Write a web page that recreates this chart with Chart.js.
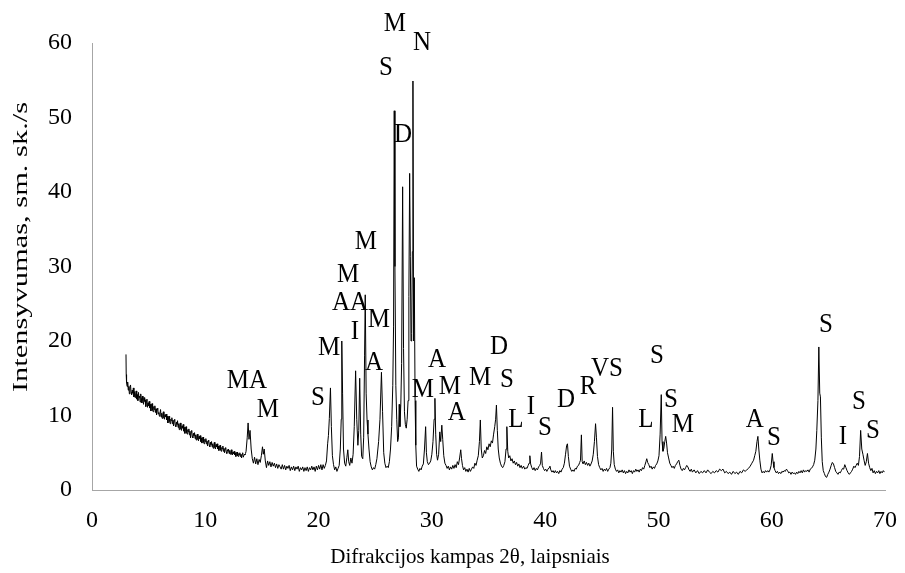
<!DOCTYPE html>
<html>
<head>
<meta charset="utf-8">
<script src="https://cdn.jsdelivr.net/npm/chart.js@4.4.1/dist/chart.umd.min.js"></script>
<style>
  html, body { margin: 0; padding: 0; background: #fff; }
  #wrap { width: 905px; height: 573px; position: relative; }
</style>
</head>
<body>
<div id="wrap"><canvas id="xrdChart"></canvas></div>
<script>
// 2theta (deg) / intensity (sm. sk./s)
const pattern = [
  [3.0, 18.2], [3.02, 15.5], [3.05, 14.4], [3.1, 13.9], [3.15, 14.5], [3.2, 13.4], [3.25, 13.9], [3.3, 12.9],
  [3.35, 13.8], [3.4, 14.1], [3.45, 13.1], [3.5, 12.8], [3.55, 13.4], [3.6, 13.0], [3.65, 13.7], [3.7, 12.5],
  [3.75, 13.2], [3.8, 12.4], [3.85, 12.9], [3.9, 13.3], [3.95, 12.2], [4.0, 12.8], [4.05, 12.0], [4.1, 13.1],
  [4.15, 12.4], [4.2, 12.6], [4.25, 11.8], [4.3, 12.9], [4.35, 12.3], [4.4, 11.7], [4.45, 12.6], [4.5, 12.0],
  [4.55, 11.5], [4.6, 12.4], [4.65, 11.9], [4.7, 12.1], [4.75, 11.2], [4.8, 11.9], [4.85, 12.2], [4.9, 11.1],
  [4.95, 11.7], [5.0, 11.3], [5.05, 11.9], [5.1, 11.0], [5.15, 11.5], [5.2, 10.6], [5.25, 11.4], [5.3, 11.6],
  [5.35, 10.7], [5.4, 10.5], [5.45, 11.2], [5.5, 10.8], [5.55, 11.3], [5.6, 10.4], [5.65, 10.9], [5.7, 10.1],
  [5.75, 10.8], [5.8, 11.0], [5.85, 10.2], [5.9, 10.4], [5.95, 9.9], [6.0, 10.3], [6.05, 10.8], [6.1, 9.8],
  [6.15, 10.3], [6.2, 9.6], [6.25, 10.2], [6.3, 10.5], [6.35, 9.7], [6.4, 9.5], [6.45, 10.1], [6.5, 9.8],
  [6.55, 10.2], [6.6, 9.4], [6.65, 9.9], [6.7, 9.0], [6.75, 9.7], [6.8, 9.9], [6.85, 9.2], [6.9, 8.9],
  [6.95, 9.5], [7.0, 9.3], [7.05, 9.7], [7.1, 8.9], [7.15, 9.4], [7.2, 8.6], [7.25, 9.3], [7.3, 9.5],
  [7.35, 8.7], [7.4, 8.5], [7.45, 9.1], [7.5, 8.8], [7.55, 9.3], [7.6, 8.4], [7.65, 8.9], [7.7, 8.1],
  [7.75, 8.8], [7.8, 9.0], [7.85, 8.2], [7.9, 8.0], [7.95, 8.6], [8.0, 8.3], [8.05, 8.8], [8.1, 7.9],
  [8.15, 8.4], [8.2, 7.6], [8.25, 8.3], [8.3, 8.5], [8.35, 7.7], [8.4, 7.5], [8.45, 8.1], [8.5, 7.8],
  [8.55, 8.2], [8.6, 7.4], [8.65, 7.9], [8.7, 7.0], [8.75, 7.7], [8.8, 8.0], [8.85, 7.2], [8.9, 7.0],
  [8.95, 7.6], [9.0, 7.3], [9.05, 7.7], [9.1, 6.9], [9.15, 7.4], [9.2, 6.7], [9.25, 7.3], [9.3, 7.5],
  [9.35, 6.8], [9.4, 6.6], [9.45, 7.2], [9.5, 6.9], [9.55, 7.3], [9.6, 6.5], [9.65, 7.0], [9.7, 6.3],
  [9.75, 6.9], [9.8, 7.1], [9.85, 6.4], [9.9, 6.2], [9.95, 6.8], [10.0, 6.5], [10.05, 6.9], [10.1, 6.2],
  [10.15, 6.6], [10.2, 5.9], [10.25, 6.5], [10.3, 6.7], [10.35, 6.0], [10.4, 5.8], [10.45, 6.4], [10.5, 6.1],
  [10.55, 6.5], [10.6, 5.8], [10.65, 6.2], [10.7, 5.6], [10.75, 6.1], [10.8, 6.4], [10.85, 5.7], [10.9, 5.5],
  [10.95, 6.1], [11.0, 5.8], [11.05, 6.2], [11.1, 5.5], [11.15, 5.9], [11.2, 5.3], [11.25, 5.8], [11.3, 6.0],
  [11.35, 5.4], [11.4, 5.2], [11.45, 5.7], [11.5, 5.5], [11.55, 5.9], [11.6, 5.2], [11.65, 5.6], [11.7, 5.0],
  [11.75, 5.5], [11.8, 5.7], [11.85, 5.1], [11.9, 4.9], [11.95, 5.4], [12.0, 5.2], [12.05, 5.5], [12.1, 4.9],
  [12.15, 5.3], [12.2, 4.8], [12.25, 5.2], [12.3, 5.4], [12.35, 4.8], [12.4, 4.7], [12.45, 5.1], [12.5, 4.9],
  [12.55, 5.2], [12.6, 4.7], [12.65, 5.0], [12.7, 4.5], [12.75, 4.9], [12.8, 5.1], [12.85, 4.6], [12.9, 4.5],
  [12.95, 4.9], [13.0, 4.7], [13.05, 5.0], [13.1, 4.5], [13.15, 4.8], [13.2, 4.3], [13.25, 4.8], [13.3, 5.0],
  [13.35, 4.4], [13.4, 4.4], [13.45, 4.8], [13.5, 4.7], [13.55, 4.9], [13.6, 5.2], [13.7, 7.0], [13.78, 9.0],
  [13.86, 6.8], [13.95, 8.0], [14.05, 5.5], [14.15, 4.2], [14.25, 3.6], [14.35, 4.4], [14.45, 3.5], [14.55, 4.2],
  [14.65, 3.4], [14.75, 4.1], [14.85, 3.7], [14.95, 4.6], [15.05, 5.8], [15.12, 4.8], [15.2, 5.5], [15.3, 3.9],
  [15.4, 3.0], [15.5, 3.9], [15.6, 3.3], [15.7, 3.8], [15.8, 3.1], [15.9, 3.7], [16.0, 3.2], [16.1, 3.6],
  [16.2, 3.0], [16.3, 3.5], [16.4, 2.9], [16.5, 3.4], [16.6, 3.1], [16.7, 2.8], [16.8, 3.4], [16.9, 2.8],
  [17.0, 3.3], [17.1, 2.7], [17.2, 3.2], [17.3, 2.9], [17.4, 3.3], [17.5, 2.6], [17.6, 3.1], [17.7, 2.7],
  [17.8, 3.2], [17.9, 2.6], [18.0, 3.1], [18.1, 2.8], [18.2, 3.2], [18.3, 2.5], [18.4, 3.0], [18.5, 2.7],
  [18.6, 3.1], [18.7, 2.5], [18.8, 3.0], [18.9, 2.6], [19.0, 3.1], [19.1, 2.5], [19.2, 3.0], [19.3, 2.7],
  [19.4, 3.2], [19.5, 2.7], [19.6, 3.1], [19.7, 2.5], [19.8, 3.2], [19.9, 2.7], [20.0, 3.3], [20.1, 2.8],
  [20.2, 3.4], [20.3, 2.7], [20.4, 3.4], [20.5, 2.9], [20.6, 3.3], [20.7, 3.9], [20.8, 6.2], [20.87, 7.3],
  [20.95, 9.6], [21.05, 13.7], [21.13, 8.5], [21.22, 4.6], [21.32, 3.4], [21.42, 2.7], [21.52, 3.1], [21.62, 2.5],
  [21.72, 2.9], [21.82, 3.3], [21.92, 5.5], [22.0, 9.5], [22.05, 20.0], [22.12, 13.0], [22.2, 5.5], [22.3, 3.6],
  [22.4, 3.2], [22.5, 4.4], [22.58, 5.4], [22.66, 3.8], [22.75, 3.3], [22.85, 4.3], [22.95, 3.6], [23.05, 4.8],
  [23.15, 8.5], [23.27, 16.0], [23.37, 9.5], [23.47, 6.0], [23.55, 8.0], [23.63, 15.0], [23.72, 7.5], [23.8, 4.5],
  [23.9, 4.2], [23.98, 7.0], [24.06, 18.0], [24.12, 26.2], [24.2, 13.0], [24.28, 9.4], [24.36, 7.5], [24.45, 5.5],
  [24.55, 3.8], [24.65, 3.1], [24.75, 2.7], [24.85, 3.0], [24.95, 2.8], [25.05, 3.4], [25.15, 4.2], [25.3, 6.5],
  [25.42, 9.5], [25.55, 15.8], [25.65, 10.5], [25.75, 5.0], [25.85, 3.6], [25.95, 3.0], [26.05, 3.2], [26.15, 3.0],
  [26.25, 3.8], [26.35, 5.5], [26.45, 8.5], [26.55, 14.0], [26.62, 22.0], [26.68, 50.9], [26.74, 30.0], [26.82, 14.0],
  [26.9, 9.5], [26.98, 6.5], [27.05, 7.0], [27.12, 11.5], [27.18, 8.5], [27.26, 11.5], [27.33, 17.0], [27.42, 40.7],
  [27.5, 19.0], [27.58, 10.5], [27.66, 8.8], [27.74, 8.3], [27.82, 9.5], [27.9, 12.0], [27.97, 26.0], [28.04, 42.5],
  [28.1, 31.3], [28.16, 20.0], [28.22, 21.0], [28.28, 32.0], [28.33, 54.9], [28.39, 20.0], [28.45, 28.5], [28.52, 12.0],
  [28.58, 6.0], [28.65, 3.2], [28.75, 2.8], [28.85, 2.5], [28.95, 2.9], [29.05, 2.7], [29.15, 3.2], [29.25, 3.5],
  [29.35, 5.5], [29.45, 8.5], [29.52, 5.0], [29.6, 3.8], [29.7, 3.4], [29.8, 3.6], [29.9, 3.9], [30.0, 4.8],
  [30.1, 6.5], [30.2, 9.5], [30.27, 12.3], [30.34, 7.5], [30.42, 4.8], [30.5, 4.0], [30.6, 4.8], [30.7, 7.8],
  [30.78, 6.5], [30.88, 8.7], [30.96, 6.8], [31.05, 4.6], [31.15, 3.6], [31.25, 3.3], [31.35, 2.9], [31.45, 3.2],
  [31.55, 2.7], [31.65, 3.1], [31.75, 2.8], [31.85, 3.3], [31.95, 2.9], [32.05, 3.4], [32.15, 3.0], [32.25, 3.8],
  [32.35, 3.4], [32.45, 4.3], [32.55, 5.4], [32.62, 4.2], [32.7, 3.3], [32.8, 2.7], [32.9, 3.0], [33.0, 2.5],
  [33.1, 2.8], [33.2, 2.4], [33.3, 2.9], [33.4, 2.5], [33.5, 2.8], [33.6, 3.1], [33.7, 2.9], [33.8, 3.6],
  [33.9, 3.3], [34.0, 4.0], [34.1, 4.6], [34.2, 6.5], [34.28, 9.4], [34.36, 5.5], [34.45, 4.3], [34.55, 4.6],
  [34.65, 5.3], [34.75, 4.9], [34.85, 5.8], [34.95, 5.4], [35.05, 6.2], [35.15, 5.8], [35.25, 6.6], [35.35, 6.3],
  [35.45, 7.5], [35.55, 8.5], [35.63, 9.5], [35.7, 11.4], [35.78, 8.0], [35.86, 5.5], [35.95, 4.3], [36.05, 3.6],
  [36.15, 3.2], [36.25, 3.0], [36.35, 3.3], [36.45, 3.8], [36.55, 5.5], [36.62, 8.5], [36.7, 5.2], [36.78, 4.3],
  [36.88, 4.6], [36.98, 3.9], [37.08, 4.2], [37.18, 3.6], [37.28, 3.9], [37.38, 3.4], [37.48, 3.7], [37.58, 3.2],
  [37.68, 3.5], [37.78, 3.0], [37.88, 3.3], [37.98, 2.9], [38.1, 3.2], [38.2, 2.8], [38.3, 3.0], [38.4, 2.9],
  [38.5, 3.3], [38.58, 3.6], [38.65, 4.6], [38.72, 3.5], [38.82, 3.0], [38.92, 2.7], [39.02, 3.0], [39.12, 2.6],
  [39.22, 2.9], [39.32, 2.7], [39.42, 3.1], [39.52, 3.3], [39.6, 3.6], [39.68, 5.1], [39.75, 3.3], [39.85, 2.9],
  [39.95, 2.6], [40.05, 2.8], [40.15, 2.5], [40.25, 2.8], [40.35, 3.0], [40.42, 3.2], [40.5, 2.7], [40.6, 2.4],
  [40.7, 2.6], [40.8, 2.3], [40.9, 2.6], [41.0, 2.3], [41.1, 2.5], [41.2, 2.2], [41.3, 2.6], [41.4, 2.4],
  [41.5, 2.8], [41.6, 3.0], [41.7, 3.6], [41.8, 4.8], [41.9, 6.0], [41.97, 6.2], [42.05, 4.5], [42.15, 3.2],
  [42.25, 2.8], [42.35, 2.5], [42.45, 2.7], [42.55, 2.5], [42.65, 2.9], [42.75, 2.8], [42.85, 3.2], [42.95, 3.3],
  [43.05, 3.7], [43.12, 4.0], [43.2, 7.4], [43.27, 3.8], [43.35, 3.5], [43.45, 3.9], [43.55, 3.4], [43.65, 3.7],
  [43.75, 3.3], [43.85, 3.6], [43.95, 3.2], [44.05, 3.5], [44.15, 3.9], [44.25, 4.8], [44.35, 6.5], [44.45, 8.9],
  [44.53, 7.0], [44.62, 4.5], [44.72, 3.4], [44.82, 3.0], [44.92, 2.7], [45.02, 2.9], [45.12, 2.5], [45.22, 2.8],
  [45.32, 2.6], [45.42, 2.9], [45.52, 2.5], [45.62, 2.8], [45.72, 3.0], [45.8, 3.6], [45.88, 5.5], [45.95, 11.1],
  [46.02, 5.2], [46.1, 3.4], [46.2, 2.8], [46.3, 2.5], [46.4, 2.7], [46.5, 2.3], [46.6, 2.6], [46.7, 2.4],
  [46.8, 2.7], [46.9, 2.3], [47.0, 2.6], [47.1, 2.2], [47.2, 2.5], [47.3, 2.3], [47.4, 2.7], [47.5, 2.4],
  [47.6, 2.6], [47.7, 2.2], [47.8, 2.6], [47.9, 2.4], [48.0, 2.8], [48.1, 2.5], [48.2, 2.7], [48.3, 2.4],
  [48.4, 2.8], [48.5, 2.6], [48.6, 3.0], [48.7, 2.8], [48.8, 3.3], [48.9, 3.8], [48.97, 4.2], [49.05, 3.7],
  [49.15, 3.4], [49.25, 3.0], [49.35, 3.2], [49.45, 2.8], [49.55, 3.1], [49.65, 2.9], [49.75, 3.3], [49.85, 3.5],
  [49.95, 3.9], [50.05, 4.6], [50.15, 7.5], [50.25, 12.8], [50.32, 6.5], [50.4, 5.2], [50.48, 5.6], [50.56, 6.5],
  [50.64, 7.2], [50.72, 6.3], [50.8, 5.0], [50.9, 4.3], [51.0, 3.6], [51.1, 3.3], [51.2, 3.0], [51.3, 3.2],
  [51.4, 2.9], [51.5, 3.3], [51.6, 3.5], [51.7, 3.8], [51.8, 4.0], [51.9, 3.3], [52.0, 2.8], [52.1, 2.6],
  [52.2, 2.9], [52.3, 2.7], [52.4, 3.0], [52.5, 3.3], [52.6, 3.1], [52.7, 2.7], [52.8, 2.5], [52.9, 2.8],
  [53.0, 2.4], [53.15, 2.7], [53.3, 2.3], [53.45, 2.6], [53.6, 2.2], [53.75, 2.5], [53.9, 2.3], [54.05, 2.6],
  [54.2, 2.3], [54.35, 2.7], [54.5, 2.4], [54.65, 2.2], [54.8, 2.5], [54.95, 2.3], [55.1, 2.6], [55.25, 2.4],
  [55.4, 2.8], [55.55, 2.6], [55.7, 2.8], [55.85, 2.3], [56.0, 2.5], [56.15, 2.2], [56.3, 2.4], [56.45, 2.1],
  [56.6, 2.5], [56.75, 2.2], [56.9, 2.4], [57.05, 2.1], [57.2, 2.5], [57.35, 2.3], [57.5, 2.7], [57.65, 2.5],
  [57.8, 2.7], [57.95, 2.9], [58.1, 3.2], [58.25, 3.6], [58.4, 4.0], [58.5, 4.6], [58.6, 5.2], [58.7, 6.5],
  [58.78, 7.2], [58.86, 5.5], [58.95, 4.0], [59.05, 2.8], [59.15, 2.3], [59.25, 2.5], [59.35, 2.3], [59.45, 2.6],
  [59.55, 2.4], [59.65, 2.6], [59.75, 2.4], [59.85, 2.7], [59.95, 3.3], [60.05, 4.9], [60.12, 3.8], [60.2, 3.0],
  [60.3, 2.6], [60.4, 2.3], [60.5, 2.5], [60.6, 2.2], [60.7, 2.4], [60.8, 2.2], [60.9, 2.5], [61.0, 2.4],
  [61.1, 2.6], [61.2, 2.5], [61.3, 2.8], [61.4, 2.6], [61.5, 2.3], [61.6, 2.4], [61.7, 2.1], [61.8, 2.4],
  [61.9, 2.2], [62.0, 2.3], [62.1, 2.1], [62.2, 2.4], [62.3, 2.2], [62.4, 2.5], [62.5, 2.3], [62.6, 2.6],
  [62.7, 2.3], [62.8, 2.7], [62.9, 2.4], [63.0, 2.6], [63.1, 2.5], [63.2, 2.7], [63.3, 2.4], [63.4, 2.8],
  [63.5, 2.9], [63.6, 3.1], [63.7, 3.4], [63.8, 4.0], [63.9, 5.5], [63.98, 8.0], [64.08, 12.0], [64.16, 19.2],
  [64.24, 13.0], [64.3, 12.5], [64.38, 7.0], [64.46, 3.8], [64.55, 2.6], [64.65, 2.2], [64.75, 1.8], [64.85, 1.7],
  [64.95, 2.1], [65.05, 2.4], [65.15, 2.8], [65.25, 3.3], [65.35, 3.7], [65.45, 3.5], [65.55, 3.0], [65.65, 2.5],
  [65.75, 2.3], [65.85, 2.1], [65.95, 2.4], [66.05, 2.3], [66.15, 2.6], [66.25, 2.9], [66.35, 2.8], [66.45, 3.4],
  [66.55, 3.0], [66.65, 2.6], [66.75, 2.3], [66.85, 2.1], [66.95, 2.3], [67.05, 2.5], [67.15, 2.8], [67.25, 3.2],
  [67.35, 3.0], [67.45, 3.3], [67.55, 3.6], [67.65, 3.3], [67.75, 4.5], [67.85, 8.0], [67.95, 5.5], [68.05, 4.8],
  [68.15, 4.0], [68.25, 3.3], [68.35, 3.8], [68.45, 4.9], [68.55, 3.6], [68.65, 3.0], [68.75, 2.6], [68.85, 2.9],
  [68.95, 2.3], [69.05, 2.6], [69.15, 2.2], [69.25, 2.5], [69.35, 2.3], [69.45, 2.6], [69.55, 2.2], [69.65, 2.5],
  [69.75, 2.3], [69.85, 2.6], [69.95, 2.4]
];

// phase letters written over the peaks, and where they sit (2theta, intensity)
const phaseText = ['MA', 'M', 'S', 'M', 'AA', 'M', 'M', 'I', 'M', 'A', 'S', 'M', 'N', 'D',
  'M', 'A', 'M', 'A', 'M', 'D', 'S', 'L', 'I', 'S', 'D', 'R', 'VS', 'S', 'L', 'S', 'M',
  'A', 'S', 'S', 'I', 'S', 'S'];
const phaseX = [13.68, 15.53, 19.95, 20.92, 22.77, 22.6, 24.18, 23.21, 25.33, 24.89, 25.95, 26.74, 29.13, 27.45,
  29.21, 30.45, 31.6, 32.2, 34.25, 35.92, 36.63, 37.42, 38.75, 39.98, 41.84, 43.78, 45.45, 49.87, 48.9, 51.1, 52.16,
  58.5, 60.2, 64.78, 66.28, 67.7, 68.93];
const phaseY = [14.63, 10.74, 12.35, 19.06, 25.1, 28.86, 33.29, 21.2, 22.82, 17.05, 56.64, 62.55, 60.0, 47.65,
  13.42, 17.45, 13.8, 10.3, 15.0, 19.2, 14.77, 9.4, 11.14, 8.32, 12.08, 13.83, 16.24, 17.99, 9.4, 12.08, 8.72,
  9.4, 6.98, 22.15, 7.11, 11.81, 7.92];

const xTicks = [0, 10, 20, 30, 40, 50, 60, 70];
const yTicks = [0, 10, 20, 30, 40, 50, 60];
const xTitle = 'Difrakcijos kampas 2θ, laipsniais';
const yTitle = 'Intensyvumas, sm. sk./s';

const serif = '"Liberation Serif", "Times New Roman", serif';

// peak letters + axis titles (the titles in the original are a bit stretched)
const annotations = {
  id: 'annotations',
  afterDraw(chart) {
    const { ctx, scales } = chart;
    ctx.save();
    ctx.fillStyle = '#000';
    ctx.textAlign = 'center';
    ctx.textBaseline = 'middle';
    ctx.font = '25px ' + serif;
    phaseText.forEach((t, i) => {
      const px = scales.x.getPixelForValue(phaseX[i]);
      const py = scales.y.getPixelForValue(phaseY[i]);
      ctx.save();
      ctx.translate(px, py);
      ctx.scale(1, 1.1);
      ctx.fillText(t, 0, 0);
      ctx.restore();
    });

    ctx.font = '21px ' + serif;
    ctx.fillText(xTitle, 470, 557);

    ctx.translate(21, 247);
    ctx.rotate(-Math.PI / 2);
    ctx.scale(1.45, 1);
    ctx.fillText(yTitle, 0, 0);
    ctx.restore();
  }
};

new Chart(document.getElementById('xrdChart'), {
  type: 'line',
  data: {
    datasets: [{
      data: pattern.map(p => ({ x: p[0], y: p[1] })),
      borderColor: '#000',
      borderWidth: 1,
      pointRadius: 0,
      tension: 0,
      fill: false
    }]
  },
  options: {
    responsive: true,
    maintainAspectRatio: false,
    animation: false,
    layout: { padding: { left: 0, right: 20, top: 43, bottom: 0 } },
    plugins: { legend: { display: false }, tooltip: { enabled: false } },
    scales: {
      x: {
        type: 'linear',
        min: 0,
        max: 70,
        afterBuildTicks: (s) => { s.ticks = xTicks.map(v => ({ value: v })); },
        afterFit: (s) => { s.height = 83; s.paddingLeft = 0; s.paddingRight = 0; },
        grid: { display: true, drawOnChartArea: false, drawTicks: false },
        border: { display: true, color: '#a6a6a6', width: 1 },
        ticks: { color: '#000', padding: 16, maxRotation: 0, font: { family: serif, size: 24 } },
        title: { display: false }
      },
      y: {
        min: 0,
        max: 60,
        afterBuildTicks: (s) => { s.ticks = yTicks.map(v => ({ value: v })); },
        afterFit: (s) => { s.width = 92; s.paddingTop = 0; s.paddingBottom = 0; },
        grid: { display: true, drawOnChartArea: false, drawTicks: false },
        border: { display: true, color: '#a6a6a6', width: 1 },
        ticks: { color: '#000', padding: 20, font: { family: serif, size: 24 } },
        title: { display: false }
      }
    }
  },
  plugins: [annotations]
});
</script>
</body>
</html>
